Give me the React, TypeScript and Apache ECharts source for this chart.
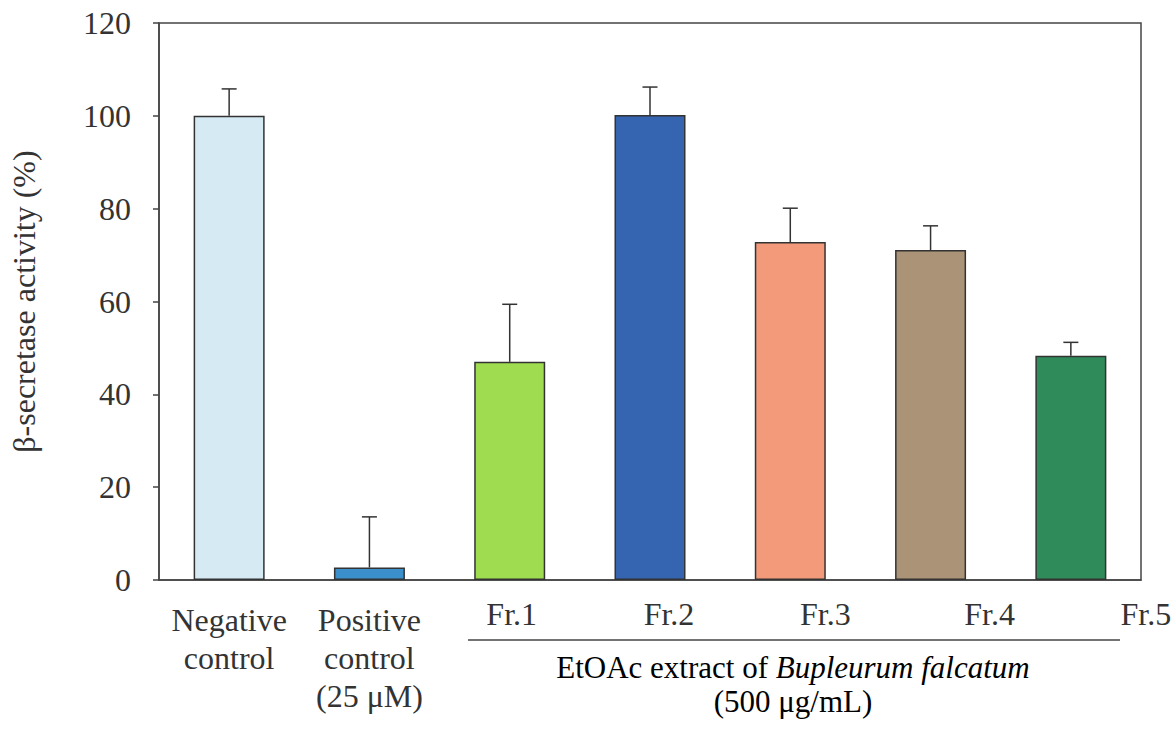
import React, { useEffect, useRef } from "react";
import * as echarts from "echarts";

const categories = ["Negative\ncontrol", "Positive\ncontrol\n(25 μM)", "Fr.1", "Fr.2", "Fr.3", "Fr.4", "Fr.5"];
const activity = [100, 2.7, 47.0, 100.2, 72.8, 71.1, 48.3];
const errorUp = [5.8, 10.9, 12.4, 6.0, 7.3, 5.2, 2.9];
const yTicks = [0, 20, 40, 60, 80, 100, 120];
const groupTitle = "EtOAc extract of ";
const groupSpecies = "Bupleurum falcatum";
const groupDose = "(500 μg/mL)";
const yName = "β-secretase activity (%)";

const barColors = ["#d6eaf4", "#3b8fca", "#a0dc50", "#3565b0", "#f39a7a", "#ab9378", "#2f8c5a"];
// horizontal shift (px) of the fraction labels relative to their bars
const labelShift = [0, 0, 2, 19, 35, 59, 75];

const FONT = "'Liberation Serif', 'Times New Roman', serif";
const INK = "#333";
const FS = 32;

export default function App() {
  const ref = useRef<HTMLDivElement>(null);
  useEffect(() => {
    if (!ref.current) return;
    const chart = echarts.init(ref.current, undefined, { renderer: "svg" });
    const rich: Record<string, any> = {};
    categories.forEach((_, i) => {
      rich["f" + i] = {
        fontFamily: FONT,
        fontSize: FS,
        color: INK,
        lineHeight: 26,
        padding: [0, 0, 0, 2 * labelShift[i]],
      };
    });
    chart.setOption({
      animation: false,
      backgroundColor: "#fff",
      grid: {
        left: 157,
        right: 35,
        top: 23,
        bottom: 155,
        show: true,
        borderColor: "#444",
        borderWidth: 1.5,
      },
      xAxis: {
        type: "category",
        data: categories,
        axisTick: { show: false },
        axisLine: { show: true, lineStyle: { color: "#444", width: 1.5 } },
        axisLabel: {
          interval: 0,
          margin: 21,
          fontFamily: FONT,
          fontSize: FS,
          color: INK,
          lineHeight: 38,
          rich,
          formatter: (v: string, i: number) => (labelShift[i] ? `{f${i}|${v}}` : v),
        },
      },
      yAxis: {
        type: "value",
        min: yTicks[0],
        max: yTicks[yTicks.length - 1],
        interval: yTicks[1] - yTicks[0],
        splitLine: { show: false },
        axisLine: { show: true, lineStyle: { color: "#444", width: 1.5 } },
        axisTick: { show: true, length: 6, inside: false, lineStyle: { color: "#444", width: 1.5 } },
        axisLabel: { margin: 28, fontFamily: FONT, fontSize: FS, color: INK },
        name: yName,
        nameLocation: "middle",
        nameGap: 119,
        nameTextStyle: { fontFamily: FONT, fontSize: FS, color: INK },
      },
      series: [
        {
          type: "bar",
          barWidth: 71,
          data: activity.map((v, i) => ({
            value: v,
            itemStyle: { color: barColors[i], borderColor: INK, borderWidth: 1.5 },
          })),
          z: 2,
        },
        {
          type: "custom",
          z: 3,
          data: activity.map((v, i) => [i, v, v + errorUp[i]]),
          renderItem: (params: any, api: any) => {
            const x = api.value(0);
            const base = api.coord([x, api.value(1)]);
            const top = api.coord([x, api.value(2)]);
            const half = 7.5;
            const style = { stroke: INK, lineWidth: 1.5 };
            return {
              type: "group",
              children: [
                { type: "line", shape: { x1: base[0], y1: base[1], x2: top[0], y2: top[1] }, style },
                { type: "line", shape: { x1: top[0] - half, y1: top[1], x2: top[0] + half, y2: top[1] }, style },
              ],
            };
          },
        },
      ],
      graphic: [
        {
          type: "line",
          shape: { x1: 468, y1: 640, x2: 1120, y2: 640 },
          style: { stroke: "#444", lineWidth: 1.5 },
        },
        {
          type: "text",
          x: 793,
          y: 650,
          style: {
            text: `{n|${groupTitle}}{i|${groupSpecies}}\n{n|${groupDose}}`,
            align: "center",
            verticalAlign: "top",
            rich: {
              n: { fontFamily: FONT, fontSize: 31, color: INK, lineHeight: 34 },
              i: { fontFamily: "Liberation Serif", fontSize: 31, color: INK, lineHeight: 34, fontStyle: "italic" },
            },
          },
        },
      ],
    });
    return () => chart.dispose();
  }, []);
  return (
    <div
      ref={ref}
      style={{ position: "fixed", left: 0, top: 0, width: 1176, height: 735, background: "#fff" }}
    />
  );
}
